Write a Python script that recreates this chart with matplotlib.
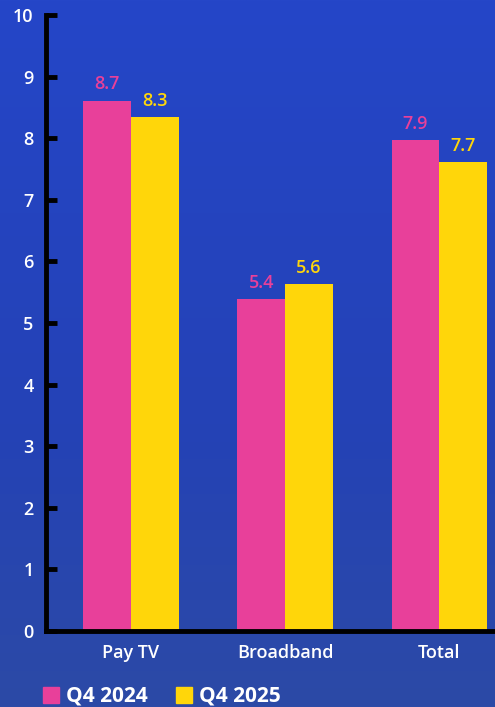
import numpy as np
import matplotlib
matplotlib.use('Agg')
import matplotlib.pyplot as plt
from matplotlib.patches import Rectangle

categories = ['Pay TV', 'Broadband', 'Total']
series_names = ['Q4 2024', 'Q4 2025']
q4_2024 = [8.61, 5.39, 7.97]
q4_2025 = [8.34, 5.63, 7.61]
labels_2024 = ['8.7', '5.4', '7.9']
labels_2025 = ['8.3', '5.6', '7.7']

PINK = '#E8409A'
YELLOW = '#FFD60A'
plt.rcParams['font.family'] = ['Open Sans', 'DejaVu Sans']

fig = plt.figure(figsize=(4.95, 7.07), dpi=100)

# --- background gradient ---
bg = fig.add_axes([0, 0, 1, 1], zorder=-1)
top = np.array([37, 70, 200]) / 255
mid = np.array([36, 66, 182]) / 255
bot = np.array([44, 74, 166]) / 255
t = np.linspace(0, 1, 256)[:, None]
grad = np.where(t < 0.6, top + (mid - top) * (t / 0.6), mid + (bot - mid) * ((t - 0.6) / 0.4))
bg.imshow(grad[:, None, :].repeat(2, axis=1), aspect='auto', extent=[0, 1, 0, 1])
bg.axis('off')

# --- bars ---
ax = fig.add_axes([46 / 495, 76 / 707, 1 - 46 / 495, 616 / 707])
ax.patch.set_alpha(0)
x = np.arange(len(categories))
w = 0.31
b1 = ax.bar(x - w / 2, q4_2024, w, color=PINK)
b2 = ax.bar(x + w / 2, q4_2025, w, color=YELLOW)
for bars, labs, col in [(b1, labels_2024, PINK), (b2, labels_2025, YELLOW)]:
    for bar, lab in zip(bars, labs):
        ax.text(bar.get_x() + bar.get_width() / 2, bar.get_height() + 0.12, lab,
                ha='center', va='bottom', color=col, fontsize=13, fontweight='semibold')

ax.set_xlim(-0.55, 2.36)
ax.set_ylim(0, 10)
ax.set_yticks(range(0, 11))
ax.set_xticks(x)
ax.set_xticklabels(categories)
ax.tick_params(axis='y', direction='in', length=8, width=3.5, color='black',
               labelcolor='white', labelsize=13, pad=9)
ax.tick_params(axis='x', length=0, labelcolor='white', labelsize=13, pad=9)
for lab in ax.get_xticklabels() + ax.get_yticklabels():
    lab.set_fontweight('semibold')
for s in ['top', 'right']:
    ax.spines[s].set_visible(False)
for s in ['left', 'bottom']:
    ax.spines[s].set_linewidth(3.5)
    ax.spines[s].set_color('black')

# --- legend ---
for i, (name, col) in enumerate(zip(series_names, [PINK, YELLOW])):
    x0 = (43 + i * 133) / 495
    fig.patches.append(Rectangle((x0, 4 / 707), 16 / 495, 16 / 707, color=col,
                                 transform=fig.transFigure, figure=fig))
    fig.text(x0 + 23 / 495, 11 / 707, name, color='white', fontsize=15,
             fontweight='bold', va='center', ha='left')

fig.savefig('out.png', dpi=100)
